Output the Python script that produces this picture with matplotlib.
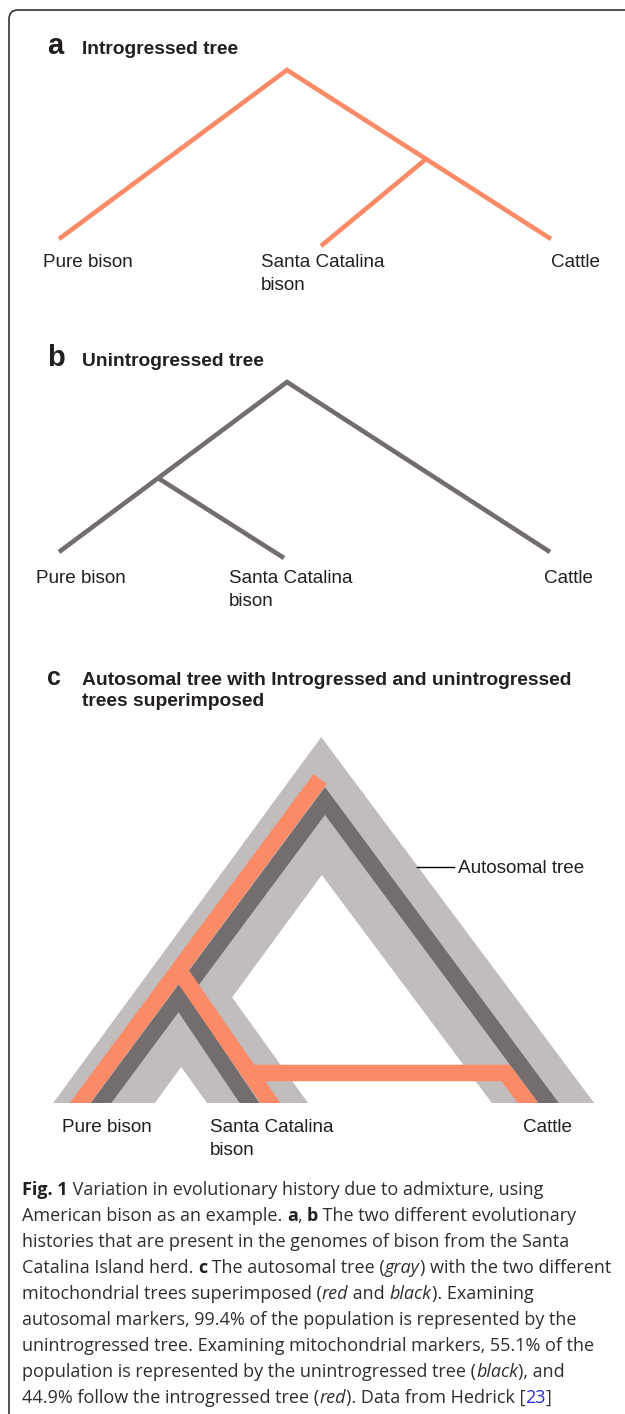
import matplotlib
matplotlib.use('Agg')
import matplotlib.pyplot as plt
from matplotlib.lines import Line2D
from matplotlib.patches import Rectangle, PathPatch
from matplotlib.path import Path
import numpy as np

W, H = 625, 1414
RED = '#FB8A66'
DARK = '#736E6D'
GRAY = '#C1BDBC'
INK = '#231F20'
LINK = '#2B2BE0'

# ---------------- data (node positions of the diagrams, pixel space) -------------
node_names = ['root', 'pure', 'junction', 'santa', 'cattle']
leaf_labels = ['Pure bison', 'Santa Catalina', 'bison', 'Cattle']

# panel a: introgressed tree (Santa Catalina joins cattle)
a_x = [287, 59, 426, 321, 551]
a_y = [70, 239, 159, 246, 239]
a_label_x = [43, 261, 261, 551]
a_label_y = [267, 267, 290, 267]

# panel b: unintrogressed tree (Santa Catalina joins pure bison)
b_x = [287, 59, 158, 284, 550]
b_y = [382, 552, 478, 558, 552]
b_label_x = [36, 229, 229, 544]
b_label_y = [583, 583, 606, 583]

# panel c: autosomal (gray), unintrogressed (dark) and introgressed (red) trees
c_base = 1103
gray_x = [321.5, 104, 181.4, 257.5, 543]
gray_y = [806, 1103, 997, 1103, 1103]
dark_x = [325, 101, 178.9, 249.5, 548.5]
dark_y = [801, 1103, 998, 1103, 1103]
red_x = [320, 80, 178.7, 270.5, 528]      # top end, pure, junction, santa, cattle
red_y = [779, 1103, 970, 1103, 1103]
red_bar_x = [249.8, 505.6, 528]
red_bar_y = [1073, 1073, 1103]
c_label_x = [62, 210, 210, 523]
c_label_y = [1132, 1132, 1155, 1132]

# ---------------- figure ----------------
fig = plt.figure(figsize=(W / 100, H / 100), dpi=100)
ax = fig.add_axes([0, 0, 1, 1])
ax.set_xlim(0, W)
ax.set_ylim(H, 0)
ax.axis('off')

PX = 0.72  # points per pixel at 100 dpi

# border (top + left with rounded corner)
bx, by, r = 9, 10, 9
verts = [(bx, H + 5), (bx, by + r), (bx, by), (bx + r, by), (W + 5, by)]
codes = [Path.MOVETO, Path.LINETO, Path.CURVE3, Path.CURVE3, Path.LINETO]
ax.add_patch(PathPatch(Path(verts, codes), fill=False, lw=1.1, edgecolor=INK))

SANS = ['Liberation Sans', 'DejaVu Sans']
LBL_FS = 13.6
TTL_FS = 13.9


def node(xs, ys, name):
    i = node_names.index(name)
    return (xs[i], ys[i])


def draw_thin_tree(xs, ys, color):
    p = node(xs, ys, 'pure'); rt = node(xs, ys, 'root'); c = node(xs, ys, 'cattle')
    j = node(xs, ys, 'junction'); s = node(xs, ys, 'santa')
    for seg in ([p, rt, c], [j, s]):
        arr = np.array(seg, dtype=float)
        ax.add_line(Line2D(arr[:, 0], arr[:, 1], color=color, lw=4.6 * PX,
                           solid_capstyle='butt', solid_joinstyle='miter'))


def panel_header(letter, title_lines, base, letter_size=21):
    ax.text(47, base, letter, fontsize=letter_size, fontweight='bold', family=SANS,
            color=INK, va='baseline', ha='left')
    for k, t in enumerate(title_lines):
        ax.text(82, base + k * 21.5, t, fontsize=TTL_FS, fontweight='bold', family=SANS,
                color=INK, va='baseline', ha='left')


def leaf_texts(lx, ly):
    for t, x, y in zip(leaf_labels, lx, ly):
        ax.text(x, y, t, fontsize=LBL_FS, family=SANS, color=INK, va='baseline', ha='left')


# panel a
panel_header('a', ['Introgressed tree'], 54)
draw_thin_tree(a_x, a_y, RED)
leaf_texts(a_label_x, a_label_y)

# panel b
panel_header('b', ['Unintrogressed tree'], 366)
draw_thin_tree(b_x, b_y, DARK)
leaf_texts(b_label_x, b_label_y)

# panel c
panel_header('c', ['Autosomal tree with Introgressed and unintrogressed',
                   'trees superimposed'], 685, letter_size=18)

clip = Rectangle((0, 0), W, c_base, transform=ax.transData)


def ext(p_from, p_to, d=40):
    p_from = np.array(p_from, float); p_to = np.array(p_to, float)
    v = p_to - p_from
    return tuple(p_to + v / np.hypot(*v) * d)


def thick(points, color, width_px):
    arr = np.array(points, dtype=float)
    ln = Line2D(arr[:, 0], arr[:, 1], color=color, lw=width_px * PX,
                solid_capstyle='butt', solid_joinstyle='miter')
    ax.add_line(ln)
    ln.set_clip_path(clip)


def thick_tree(xs, ys, color, width_px):
    p = node(xs, ys, 'pure'); rt = node(xs, ys, 'root'); c = node(xs, ys, 'cattle')
    j = node(xs, ys, 'junction'); s = node(xs, ys, 'santa')
    thick([ext(rt, p), rt, ext(rt, c)], color, width_px)
    thick([j, ext(j, s)], color, width_px)


thick_tree(gray_x, gray_y, GRAY, 82)
thick_tree(dark_x, dark_y, DARK, 16.5)
# red (introgressed) tree
r_top = (red_x[0], red_y[0]); r_p = (red_x[1], red_y[1]); r_j = (red_x[2], red_y[2])
r_s = (red_x[3], red_y[3])
thick([ext(r_top, r_p), r_top], RED, 16.5)
thick([r_j, ext(r_j, r_s)], RED, 16.5)
bar = list(zip(red_bar_x, red_bar_y))
thick([bar[0], bar[1], ext(bar[1], bar[2])], RED, 16.5)

leaf_texts(c_label_x, c_label_y)
ax.plot([417, 454], [867, 867], color='black', lw=1.0)
ax.text(457.5, 873, 'Autosomal tree', fontsize=LBL_FS, family=SANS, color=INK,
        va='baseline', ha='left')

# ---------------- caption ----------------
CAP = ['Open Sans', 'DejaVu Sans']
R_, B_, I_, L_ = 'r', 'b', 'i', 'l'
caption = [
    [('Fig. 1', B_), (' Variation in evolutionary history due to admixture, using', R_)],
    [('American bison as an example. ', R_), ('a', B_), (', ', R_), ('b', B_),
     (' The two different evolutionary', R_)],
    [('histories that are present in the genomes of bison from the Santa', R_)],
    [('Catalina Island herd. ', R_), ('c', B_), (' The autosomal tree (', R_), ('gray', I_),
     (') with the two different', R_)],
    [('mitochondrial trees superimposed (', R_), ('red', I_), (' and ', R_), ('black', I_),
     ('). Examining', R_)],
    [('autosomal markers, 99.4% of the population is represented by the', R_)],
    [('unintrogressed tree. Examining mitochondrial markers, 55.1% of the', R_)],
    [('population is represented by the unintrogressed tree (', R_), ('black', I_),
     ('), and', R_)],
    [('44.9% follow the introgressed tree (', R_), ('red', I_), ('). Data from Hedrick [', R_),
     ('23', L_), (']', R_)],
]


def style(kind, fs):
    kw = dict(fontsize=fs, family=CAP, color='#2E2E2E')
    if kind == 'b':
        kw['fontweight'] = 'bold'
        kw['color'] = INK
    elif kind == 'i':
        kw['fontstyle'] = 'italic'
    elif kind == 'l':
        kw['color'] = LINK
    return kw


renderer = fig.canvas.get_renderer()


def seg_width(s, kw):
    t1 = ax.text(0, 0, '|' + s + '|', **kw)
    t2 = ax.text(0, 0, '||', **kw)
    w = t1.get_window_extent(renderer).width - t2.get_window_extent(renderer).width
    t1.remove(); t2.remove()
    return w


def line_width(line, fs):
    return sum(seg_width(s, style(k, fs)) for s, k in line)


cap_x0, cap_y0, cap_dy = 22, 1195, 26.0
base_fs = 11.0
target = 612 - cap_x0          # widest line (line 4) spans the full text block
CAP_FS = base_fs * target / line_width(caption[3], base_fs)

for li, line in enumerate(caption):
    x = cap_x0
    y = cap_y0 + li * cap_dy
    for s, kind in line:
        kw = style(kind, CAP_FS)
        ax.text(x, y, s, va='baseline', ha='left', **kw)
        x += seg_width(s, kw)

fig.savefig('out.png', dpi=100, facecolor='white')
